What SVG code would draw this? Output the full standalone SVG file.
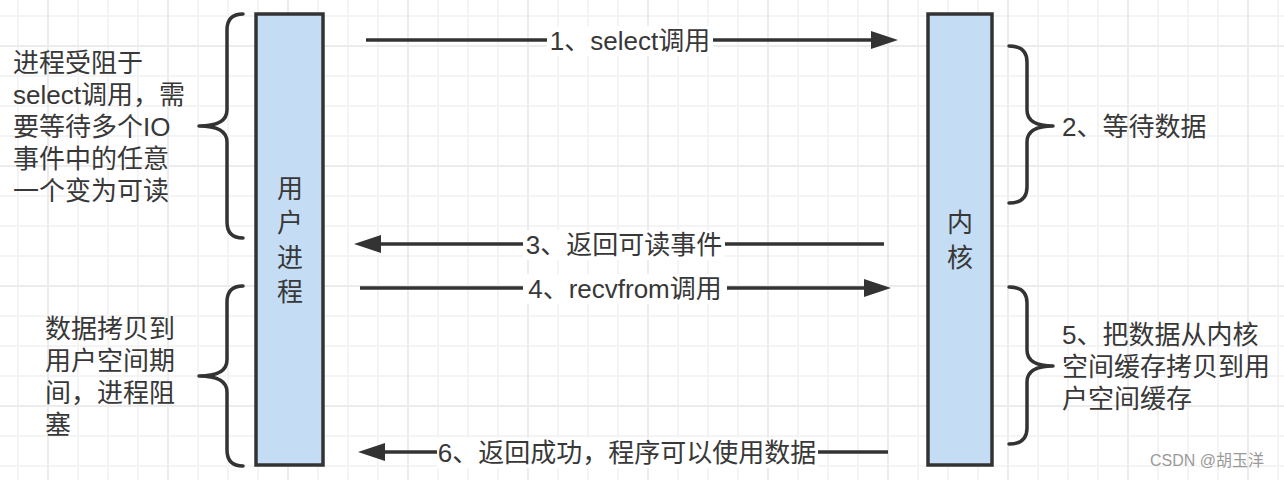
<svg xmlns="http://www.w3.org/2000/svg" width="1284" height="480" viewBox="0 0 1284 480">
<style>
.t{font-family:"Liberation Sans","Noto Sans CJK SC",sans-serif;font-size:26px;fill:#383838}
.c{text-anchor:middle}
.box{fill:#c4ddf5;stroke:#333;stroke-width:3.5}
.br{fill:none;stroke:#333;stroke-width:3.5;stroke-linecap:round;stroke-linejoin:round}
.ln{fill:none;stroke:#333;stroke-width:3.5}
.lb{fill:#fff}
</style>
<defs>
<pattern id="grid" x="47" y="45" width="120" height="120" patternUnits="userSpaceOnUse">
<rect x="30" y="0" width="2" height="120" fill="#f4f4f4"/>
<rect x="60" y="0" width="2" height="120" fill="#f4f4f4"/>
<rect x="90" y="0" width="2" height="120" fill="#f4f4f4"/>
<rect x="0" y="30" width="120" height="2" fill="#f4f4f4"/>
<rect x="0" y="60" width="120" height="2" fill="#f4f4f4"/>
<rect x="0" y="90" width="120" height="2" fill="#f4f4f4"/>
<rect x="0" y="0" width="2" height="120" fill="#ececec"/>
<rect x="0" y="0" width="120" height="2" fill="#ececec"/>
</pattern>
<marker id="ah" markerUnits="userSpaceOnUse" markerWidth="28" markerHeight="18" refX="0" refY="9" orient="auto" viewBox="0 0 28 18">
<path d="M0,0 L27,9 L0,18 z" fill="#333"/>
</marker>
</defs>
<rect width="1284" height="480" fill="#fff"/>
<rect width="1284" height="480" fill="url(#grid)"/>

<g id="user-process">
<rect class="box" x="256" y="14" width="67" height="451"/>
<text class="t c" x="290" y="197.5">用</text>
<text class="t c" x="290" y="232">户</text>
<text class="t c" x="290" y="266.5">进</text>
<text class="t c" x="290" y="301">程</text>
</g>

<g id="kernel">
<rect class="box" x="928" y="14" width="64" height="451"/>
<text class="t c" x="960" y="231.5">内</text>
<text class="t c" x="960" y="266.5">核</text>
</g>

<g id="note-blocked-select">
<path class="br" d="M243 14 Q227 14 227 30 L227 110 Q227 126 199 126 Q227 126 227 142 L227 222 Q227 238 243 238"/>
<text class="t" x="13" y="71.5">进程受阻于</text>
<text class="t" x="13" y="103.5">select调用，需</text>
<text class="t" x="13" y="135.5">要等待多个IO</text>
<text class="t" x="13" y="167.5">事件中的任意</text>
<text class="t" x="13" y="199.5">一个变为可读</text>
</g>

<g id="note-blocked-copy">
<path class="br" d="M243 286 Q227 286 227 302 L227 360 Q227 376 199 376 Q227 376 227 392 L227 450 Q227 466 243 466"/>
<text class="t" x="45" y="337.5">数据拷贝到</text>
<text class="t" x="45" y="369.5">用户空间期</text>
<text class="t" x="45" y="401.5">间，进程阻</text>
<text class="t" x="45" y="433.5">塞</text>
</g>

<g id="note-wait-data">
<path class="br" d="M1009 46 Q1027 46 1027 62 L1027 110 Q1027 126 1053 126 Q1027 126 1027 142 L1027 187 Q1027 203 1009 203"/>
<text class="t" x="1062" y="135.5">2、等待数据</text>
</g>

<g id="note-copy-data">
<path class="br" d="M1009 287 Q1027 287 1027 303 L1027 350 Q1027 366 1053 366 Q1027 366 1027 382 L1027 428 Q1027 444 1009 444"/>
<text class="t" x="1062" y="343.5">5、把数据从内核</text>
<text class="t" x="1062" y="375.5">空间缓存拷贝到用</text>
<text class="t" x="1062" y="407.5">户空间缓存</text>
</g>

<g id="connectors">
<path class="ln" d="M366 40 H871" marker-end="url(#ah)"/>
<rect class="lb" x="547" y="26" width="166" height="30"/>
<text class="t c" x="630" y="49.5">1、select调用</text>

<path class="ln" d="M884 244 H381" marker-end="url(#ah)"/>
<rect class="lb" x="523" y="230" width="202" height="30"/>
<text class="t c" x="624" y="253.5">3、返回可读事件</text>

<path class="ln" d="M360 288 H864" marker-end="url(#ah)"/>
<rect class="lb" x="523" y="274" width="204" height="30"/>
<text class="t c" x="625" y="297.5">4、recvfrom调用</text>

<path class="ln" d="M888 452 H385" marker-end="url(#ah)"/>
<rect class="lb" x="437" y="438" width="381" height="30"/>
<text class="t c" x="627" y="461.5">6、返回成功，程序可以使用数据</text>
</g>

<text x="1150" y="466" style="font-family:'Liberation Sans','Noto Sans CJK SC',sans-serif;font-size:16px;fill:#9a9a9a">CSDN @胡玉洋</text>
</svg>
